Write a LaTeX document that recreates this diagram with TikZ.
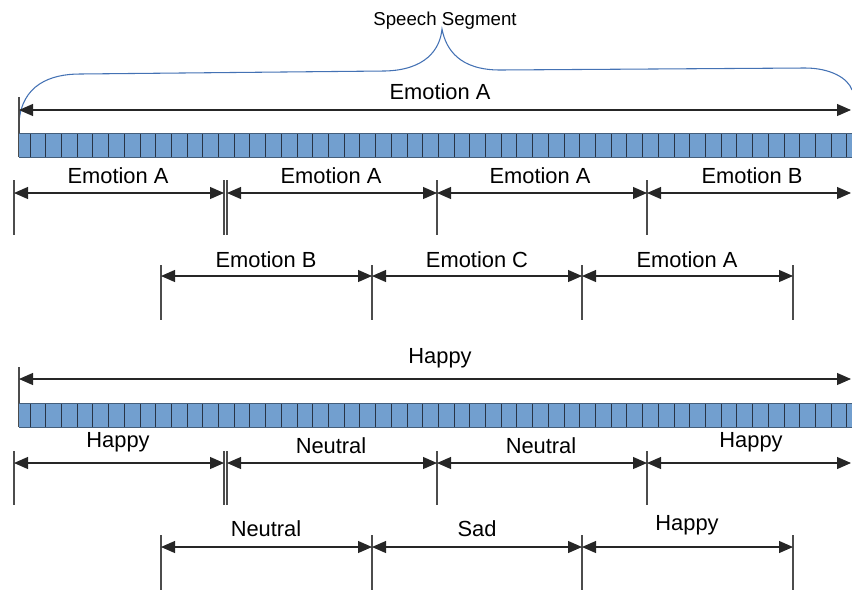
\documentclass[tikz,border=0pt]{standalone}
\usepackage{fontspec}
\setmainfont{Liberation Sans}
\usetikzlibrary{arrows.meta}
\definecolor{barfill}{RGB}{114,159,207}
\definecolor{barline}{RGB}{40,52,70}
\definecolor{bracecol}{RGB}{68,114,180}
\begin{document}
\begin{tikzpicture}[x=0.75pt,y=-0.75pt,every node/.style={font=\fontsize{16.4}{19}\selectfont,anchor=base,inner sep=0pt},
  dim/.style={{Triangle[length=10.5pt,width=9pt]}-{Triangle[length=10.5pt,width=9pt]},line width=0.8pt,black!85},
  tick/.style={line width=0.8pt,black!70},
  cells/.style={fill=barfill,draw=barfill!70!black,line width=0.6pt}]
\useasboundingbox (0,0) rectangle (852,590);
% speech segment brace
\node[font=\fontsize{14}{16}\selectfont] (seg) at (445,25) {Speech Segment};
\draw[bracecol,line width=0.8pt] (19,122) .. controls (22,85) and (50,74) .. (80,74) -- (385,71)
  .. controls (425,70) and (440,50) .. (442,29) .. controls (446,50) and (460,70) .. (500,70)
  -- (805,68) .. controls (830,68) and (848,78) .. (852,90);
% upper bar
\draw[tick] (19,97) -- (19,157);
\coordinate (u0) at (19,110);
\coordinate (u1) at (851,110);
\draw[dim] (u0) -- (u1);
\node (lu) at (440,99) {Emotion A};
\fill[barfill] (19,133) rectangle (852,157);
\foreach \k in {0,...,52} \draw[barline,line width=0.6pt] (30+15.706*\k,133) -- (30+15.706*\k,157);
\draw[barfill!60!black,line width=0.5pt] (19,133) -- (852,133) (19,157) -- (852,157);
% row 1
\foreach \x in {14,224,227,437,647} \draw[tick] (\x,180) -- (\x,235);
\coordinate (a0) at (14,193);
\coordinate (a1) at (224,193);
\coordinate (a2) at (227,193);
\coordinate (a3) at (437,193);
\coordinate (a4) at (647,193);
\coordinate (a5) at (851,193);
\draw[dim] (a0) -- (a1);
\draw[dim] (a2) -- (a3);
\draw[dim] (a3) -- (a4);
\draw[dim] (a4) -- (a5);
\node (la1) at (118,183) {Emotion A};
\node (la2) at (331,183) {Emotion A};
\node (la3) at (540,183) {Emotion A};
\node (la4) at (752,183) {Emotion B};
% row 2
\foreach \x in {161,372,582,793} \draw[tick] (\x,265) -- (\x,320);
\coordinate (b0) at (161,276);
\coordinate (b1) at (372,276);
\coordinate (b2) at (582,276);
\coordinate (b3) at (793,276);
\draw[dim] (b0) -- (b1);
\draw[dim] (b1) -- (b2);
\draw[dim] (b2) -- (b3);
\node (lb1) at (266,267) {Emotion B};
\node (lb2) at (477,267) {Emotion C};
\node (lb3) at (687,267) {Emotion A};
% lower bar
\draw[tick] (19,367) -- (19,427);
\coordinate (v0) at (19,379);
\coordinate (v1) at (851,379);
\draw[dim] (v0) -- (v1);
\node (lv) at (440,363) {Happy};
\fill[barfill] (19,403) rectangle (852,427);
\foreach \k in {0,...,52} \draw[barline,line width=0.6pt] (30+15.706*\k,403) -- (30+15.706*\k,427);
\draw[barfill!60!black,line width=0.5pt] (19,403) -- (852,403) (19,427) -- (852,427);
% row 3
\foreach \x in {14,224,227,437,647} \draw[tick] (\x,451) -- (\x,505);
\coordinate (c0) at (14,463);
\coordinate (c1) at (224,463);
\coordinate (c2) at (227,463);
\coordinate (c3) at (437,463);
\coordinate (c4) at (647,463);
\coordinate (c5) at (851,463);
\draw[dim] (c0) -- (c1);
\draw[dim] (c2) -- (c3);
\draw[dim] (c3) -- (c4);
\draw[dim] (c4) -- (c5);
\node (lc1) at (118,447) {Happy};
\node (lc2) at (331,453) {Neutral};
\node (lc3) at (541,453) {Neutral};
\node (lc4) at (751,447) {Happy};
% row 4
\foreach \x in {161,372,582,793} \draw[tick] (\x,535) -- (\x,590);
\coordinate (d0) at (161,547);
\coordinate (d1) at (372,547);
\coordinate (d2) at (582,547);
\coordinate (d3) at (793,547);
\draw[dim] (d0) -- (d1);
\draw[dim] (d1) -- (d2);
\draw[dim] (d2) -- (d3);
\node (ld1) at (266,536) {Neutral};
\node (ld2) at (477,536) {Sad};
\node (ld3) at (687,530) {Happy};
\end{tikzpicture}
\end{document}
